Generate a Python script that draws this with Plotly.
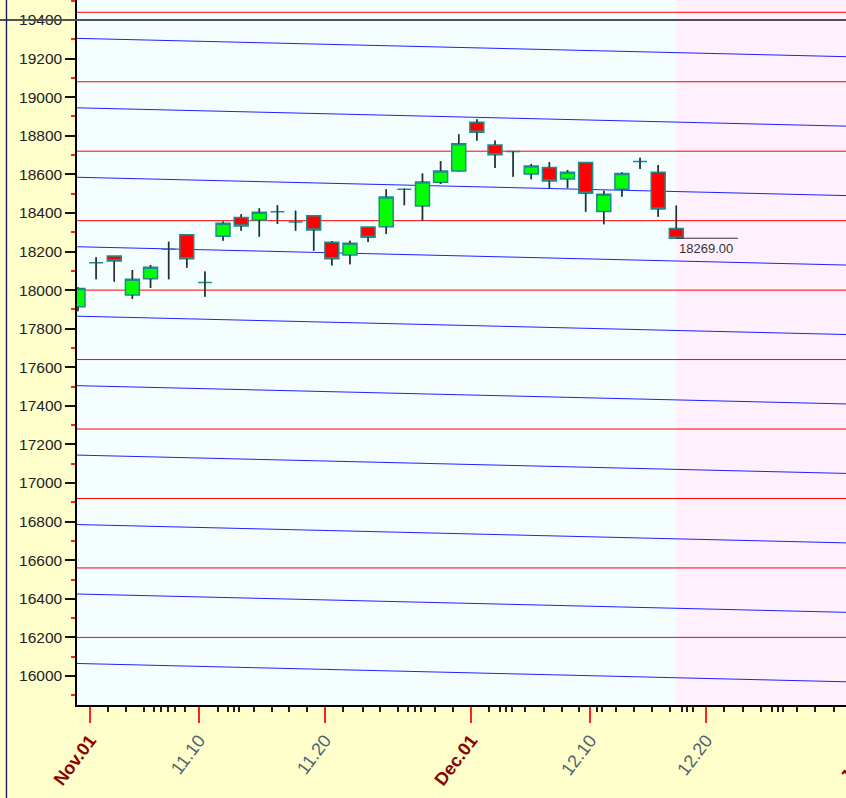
import plotly.graph_objects as go

# ---------------- data ----------------
candle_index = list(range(34))
opens  = [17914, 18142, 18177, 17975, 18059, 18212, 18287, 18039, 18279, 18377,
          18363, 18406, 18353, 18386, 18248, 18182, 18327, 18329, 18523, 18436,
          18559, 18617, 18870, 18752, 18718, 18602, 18636, 18576, 18662, 18408,
          18523, 18666, 18611, 18320]
highs  = [18015, 18170, 18177, 18104, 18130, 18251, 18287, 18096, 18355, 18393,
          18424, 18440, 18412, 18386, 18254, 18256, 18327, 18523, 18527, 18605,
          18669, 18808, 18885, 18775, 18720, 18654, 18664, 18623, 18662, 18515,
          18611, 18686, 18648, 18438]
lows   = [17890, 18056, 18044, 17954, 18011, 18056, 18116, 17966, 18256, 18308,
          18277, 18343, 18308, 18204, 18127, 18134, 18250, 18291, 18440, 18360,
          18550, 18614, 18775, 18633, 18588, 18574, 18528, 18528, 18406, 18341,
          18484, 18628, 18380, 18266]
closes = [18009, 18142, 18151, 18056, 18118, 18212, 18163, 18039, 18346, 18332,
          18403, 18406, 18353, 18312, 18163, 18243, 18274, 18483, 18523, 18560,
          18617, 18759, 18818, 18702, 18718, 18643, 18566, 18611, 18502, 18497,
          18605, 18666, 18420, 18269]

red_levels = [19440, 19080, 18720, 18360, 18000, 17640, 17280, 16920, 16560, 16200]
blue_x = [-1, 45]
blue_left  = [19307, 18947, 18587, 18227, 17867, 17507, 17147, 16787, 16427, 16067]
blue_right = [19204, 18844, 18484, 18124, 17764, 17404, 17044, 16684, 16324, 15964]

x_tick_pos = [0.66, 6.67, 13.62, 21.68, 28.24, 34.64]
x_tick_text = ["<b><span style='color:#8B0000'>Nov.01</span></b>", "11.10", "11.20",
               "<b><span style='color:#8B0000'>Dec.01</span></b>", "12.10", "12.20"]
x_minor_pos = [1.67, 2.65, 3.66, 4.21, 4.58, 4.95, 5.35, 5.90, 7.71, 8.26, 8.62, 8.90,
               9.71, 10.68, 11.65, 12.63, 14.63, 15.70, 16.66, 17.67, 18.22, 18.59,
               18.90, 19.69, 20.67, 22.67, 23.28, 23.61, 23.92, 24.66, 25.71, 26.68,
               27.65, 28.61, 28.92, 29.68, 30.67, 31.68, 32.66, 33.30, 33.61, 33.94,
               35.63, 36.66, 37.67, 38.26, 38.59, 38.90, 39.64, 40.65, 41.70]
y_tick_vals = list(range(16000, 19401, 200))
cross_level = 19400
last_label = "18269.00"

x_range = [-0.055, 42.36]
y_range = [15849.6, 19503.7]

# ---------------- figure ----------------
fig = go.Figure()

fig.add_trace(go.Candlestick(
    x=candle_index, open=opens, high=highs, low=lows, close=closes,
    increasing=dict(fillcolor="#00FF00", line=dict(color="#1E8C8C", width=1.5)),
    decreasing=dict(fillcolor="#FF0000", line=dict(color="#1E8C8C", width=1.5)),
    whiskerwidth=0, showlegend=False, hoverinfo="skip"))

# dark wicks drawn over the teal candle outline wicks
wx, wy = [], []
for i, o, h, l, c in zip(candle_index, opens, highs, lows, closes):
    top, bot = max(o, c), min(o, c)
    if h > top:
        wx += [i, i, None]; wy += [h, top, None]
    if l < bot:
        wx += [i, i, None]; wy += [bot, l, None]
fig.add_trace(go.Scatter(x=wx, y=wy, mode="lines",
                         line=dict(color="#2b2b2b", width=1.5),
                         showlegend=False, hoverinfo="skip"))

shapes = []
# pink future region
shapes.append(dict(type="rect", xref="x", yref="paper", x0=candle_index[-1], x1=50,
                   y0=0, y1=1, fillcolor="#FFF0FE", line=dict(width=0), layer="below"))
for lv in red_levels:
    shapes.append(dict(type="line", xref="x", yref="y", x0=blue_x[0], x1=blue_x[1],
                       y0=lv, y1=lv, line=dict(color="#FF0000", width=1), layer="below"))
for a, b in zip(blue_left, blue_right):
    shapes.append(dict(type="line", xref="x", yref="y", x0=blue_x[0], x1=blue_x[1],
                       y0=a, y1=b, line=dict(color="#2020FF", width=1), layer="below"))
# close price marker line
shapes.append(dict(type="line", xref="x", yref="y", x0=candle_index[-1], x1=36.4,
                   y0=closes[-1], y1=closes[-1], line=dict(color="#333333", width=1)))
# crosshair
shapes.append(dict(type="line", xref="paper", yref="y", x0=-0.11, x1=1.0,
                   y0=cross_level, y1=cross_level, line=dict(color="#505050", width=1.8)))
shapes.append(dict(type="line", xref="paper", yref="paper", x0=-0.0917, x1=-0.0917,
                   y0=-0.2, y1=1.1, line=dict(color="#1c1c5c", width=1.4)))

annotations = [
    dict(x=candle_index[-1] + 0.05, y=closes[-1], xref="x", yref="y", text=last_label,
         showarrow=False, xanchor="left", yanchor="top", yshift=-1,
         font=dict(family="Arial, Liberation Sans", size=13, color="#333333")),
    dict(x=1.02, y=-0.075, xref="paper", yref="paper",
         text="<b>Jan.01</b>", showarrow=False, textangle=-52,
         xanchor="center", yanchor="middle",
         font=dict(family="Arial, Liberation Sans", size=18, color="#8B0000")),
]

fig.update_layout(
    width=846, height=798,
    margin=dict(l=77, r=0, t=0, b=93),
    paper_bgcolor="#FFFFCC",
    plot_bgcolor="#F4FEFE",
    boxgap=0.23, boxgroupgap=0,
    shapes=shapes, annotations=annotations,
    showlegend=False,
    font=dict(family="Arial, Liberation Sans"),
)
fig.update_xaxes(
    range=x_range, rangeslider=dict(visible=False),
    showgrid=False, zeroline=False,
    showline=True, linecolor="#000000", linewidth=1.5,
    tickmode="array", tickvals=x_tick_pos, ticktext=x_tick_text,
    ticks="outside", ticklen=16, tickwidth=1.5, tickcolor="#FF2020",
    tickangle=-53, tickfont=dict(size=18, color="#4F6272"),
    minor=dict(tickmode="array", tickvals=x_minor_pos, ticks="outside",
               ticklen=5, tickwidth=1.5, tickcolor="#222222", showgrid=False),
)
fig.update_yaxes(
    range=y_range, showgrid=False, zeroline=False,
    showline=True, linecolor="#000000", linewidth=1.5,
    tickmode="array", tickvals=y_tick_vals, ticktext=[str(v) for v in y_tick_vals],
    ticks="outside", ticklen=10, tickwidth=1.5, tickcolor="#111111",
    tickfont=dict(size=15.5, color="#222222"),
    minor=dict(dtick=100, tick0=0, ticks="outside", ticklen=4, tickwidth=1.5,
               tickcolor="#FF2020", showgrid=False),
)

fig.write_html("out.html", config={"displayModeBar": False},
               post_script="document.body.style.margin='0';document.body.style.overflow='hidden';")
